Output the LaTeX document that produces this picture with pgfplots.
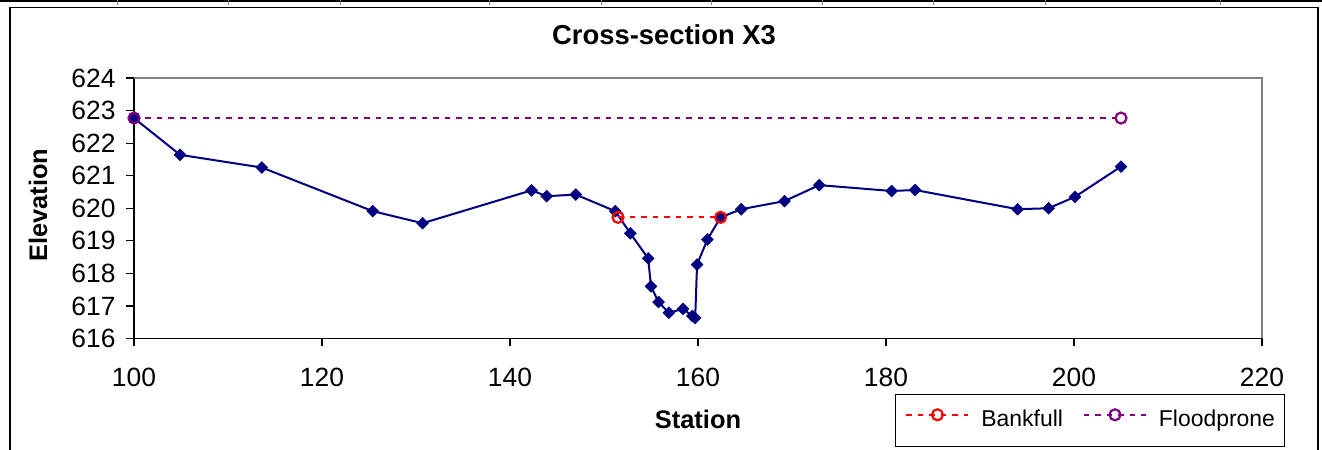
\documentclass[border=0pt]{standalone}
\usepackage{fontspec}
\setmainfont{Liberation Sans}
\usepackage{pgfplots}
\pgfplotsset{compat=1.18}
\definecolor{navyc}{HTML}{000080}
\definecolor{purp}{HTML}{800080}
\definecolor{bordergray}{HTML}{808080}
\begin{document}
\begin{tikzpicture}[x=1bp,y=1bp]
\useasboundingbox (-134,-111.5) rectangle (1188,338.5);
\fill[white] (-134,-111.5) rectangle (1188,338.5);
% worksheet strip and chart frame
\draw[black, line width=2bp] (-134,337.5) -- (1188,337.5);
\foreach \sx in {118,228,340,489,601,711,822,933,1045,1220} {
  \draw[bordergray, line width=1bp] ({\sx-134},338.5) -- ({\sx-134},333);
}
\draw[black, line width=1.2bp] (-124,-112) -- (-124,331) -- (1184,331) -- (1184,-112);
\begin{axis}[
  at={(0,0)}, anchor=south west, scale only axis,
  width=1128bp, height=260.5bp,
  xmin=100, xmax=220, ymin=616, ymax=624,
  xtick={100,120,...,220}, ytick={616,617,...,624},
  axis x line*=bottom, axis y line*=left,
  axis line style={black, line width=1.2bp},
  tick align=outside, major tick length=8bp,
  tick style={black, line width=1.2bp},
  /pgf/number format/assume math mode=true,
  /pgf/number format/set thousands separator={},
  ticklabel style={font=\fontsize{26.5}{26.5}\selectfont},
  xticklabel style={yshift=-18bp},
  yticklabel style={xshift=-7bp},
  clip=false,
  title={Cross-section X3},
  title style={at={(0.4699,1.1075)}, anchor=base, font=\bfseries\fontsize{27.5}{27.5}\selectfont},
  xlabel={Station},
  xlabel style={at={(0.5,-0.3474)}, anchor=base, font=\bfseries\fontsize{25.5}{25.5}\selectfont},
  ylabel={Elevation},
  ylabel style={at={(-0.0851,0.5125)}, anchor=center, font=\bfseries\fontsize{25.5}{25.5}\selectfont},
  legend columns=2,
  legend style={at={(0.6746,-0.2142)}, anchor=north west, draw=black, line width=1bp,
    font=\fontsize{23}{23}\selectfont, inner xsep=10bp, inner ysep=14.5bp,
    nodes={inner sep=0pt, text height=17bp, text depth=5bp},
    /tikz/every odd column/.style={column sep=12bp},
    /tikz/every even column/.style={column sep=20bp}},
  legend image code/.code={\draw[#1, mark repeat=2, mark phase=2] plot coordinates {(0bp,6bp)(31bp,6bp)(62bp,6bp)};},
]
\addplot[navyc, line width=2bp, mark=square*, mark size=4.2bp,
  mark options={rotate=45, solid, fill=navyc, line width=0.5bp}, forget plot] coordinates {
(100.0,622.77) (104.9,621.64) (113.6,621.25) (125.4,619.91) (130.7,619.54)
(142.3,620.55) (143.9,620.37) (147.0,620.42) (151.2,619.91) (152.8,619.23)
(154.7,618.46) (155.0,617.60) (155.8,617.12) (156.9,616.79) (158.4,616.91)
(159.4,616.69) (159.7,616.63) (159.9,618.27) (161.0,619.04) (162.4,619.72)
(164.6,619.97) (169.2,620.22) (172.9,620.71) (180.6,620.53) (183.1,620.56)
(194.0,619.97) (197.3,620.00) (200.1,620.35) (205.0,621.28)
};
\addplot[red, line width=2bp, dash pattern=on 5.5bp off 6bp, mark=o, mark size=5.5bp,
  mark options={solid, line width=2.2bp}] coordinates {(151.5,619.72) (162.4,619.72)};
\addlegendentry{Bankfull}
\addplot[purp, line width=2bp, dash pattern=on 5.5bp off 6bp, mark=o, mark size=5.5bp,
  mark options={solid, line width=2.2bp}] coordinates {(100.0,622.77) (205.0,622.77)};
\addlegendentry{Floodprone}
\draw[bordergray, line width=1.2bp] (rel axis cs:0,1) -- (rel axis cs:1,1) -- (rel axis cs:1,0);
\end{axis}
\end{tikzpicture}
\end{document}
